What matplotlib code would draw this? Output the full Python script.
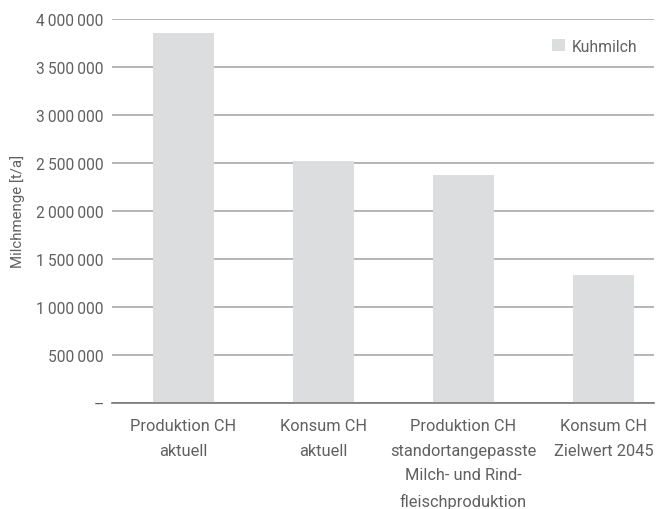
import matplotlib
matplotlib.use("Agg")
import matplotlib.pyplot as plt
from matplotlib.ticker import FuncFormatter

plt.rcParams["font.family"] = ["Roboto", "DejaVu Sans"]

# data
categories = [
    "Produktion CH\naktuell",
    "Konsum CH\naktuell",
    "Produktion CH\nstandortangepasste\nMilch- und Rind-\nfleischproduktion",
    "Konsum CH\nZielwert 2045",
]
kuhmilch = [3855000, 2520000, 2375000, 1330000]
y_ticks = [0, 500000, 1000000, 1500000, 2000000, 2500000, 3000000, 3500000, 4000000]

text_color = "#606060"
bar_color = "#dcdddf"


def fmt(v, pos):
    if v == 0:
        return "–"
    return f"{int(v):,}".replace(",", "\u2009")


fig = plt.figure(figsize=(6.63, 5.10), dpi=100)
ax = fig.add_axes([0.169, 0.208, 0.817, 0.753])

x = range(len(categories))
ax.bar(x, kuhmilch, width=0.44, color=bar_color, label="Kuhmilch", zorder=2)

# grid and axes
ax.set_ylim(0, 4000000)
ax.set_xlim(-0.51, 3.36)
ax.set_yticks(y_ticks)
ax.yaxis.set_major_formatter(FuncFormatter(fmt))
ax.grid(axis="y", color="#a0a0a0", linewidth=1.1, zorder=1)
ax.set_axisbelow(True)
for s in ["top", "right", "left"]:
    ax.spines[s].set_visible(False)
ax.spines["bottom"].set_color("#777777")
ax.spines["bottom"].set_linewidth(1.2)
ax.spines["bottom"].set_zorder(3)

ax.set_xticks(list(x))
ax.set_xticklabels(categories, linespacing=1.8, fontsize=11.8)
ax.tick_params(axis="y", length=0, colors=text_color, labelsize=11.2, pad=6)
ax.tick_params(axis="x", length=0, colors=text_color, pad=11)

ax.set_ylabel("Milchmenge [t/a]", color=text_color, fontsize=10.8, labelpad=8)

leg = ax.legend(loc="upper right", frameon=False, fontsize=11.3, handlelength=0.8,
                handleheight=0.8, handletextpad=0.4, bbox_to_anchor=(0.995, 0.985))
for t in leg.get_texts():
    t.set_color(text_color)

fig.savefig("out.png", dpi=100)
